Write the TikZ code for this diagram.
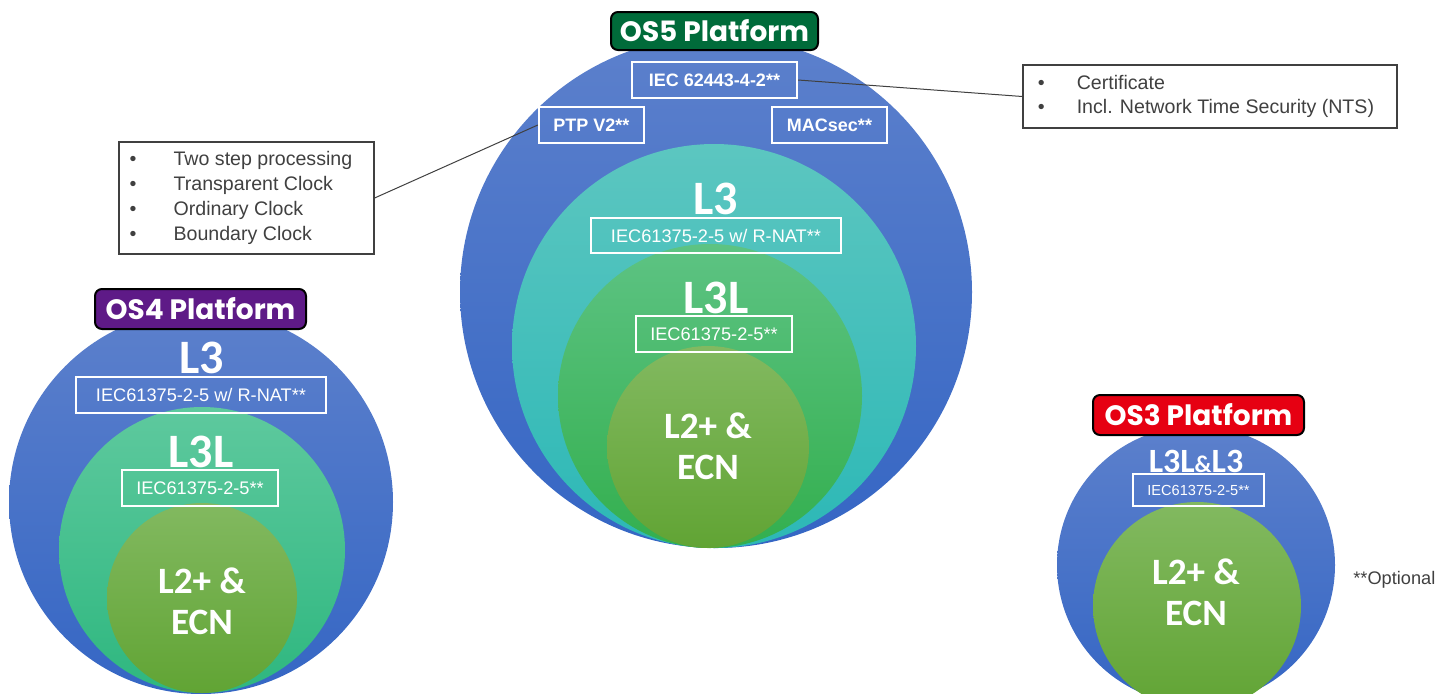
\documentclass[tikz,border=0pt]{standalone}
\usepackage{fontspec}
\setmainfont{Liberation Sans}
\newfontfamily\calibfont{Carlito}
\newfontfamily\gothicfont{Poppins}
\usepackage{tikz}
\usetikzlibrary{positioning}

\definecolor{blueTop}{HTML}{5C80CC}
\definecolor{blueBot}{HTML}{3566C4}
\definecolor{tealTop}{HTML}{5CC6C0}
\definecolor{tealBot}{HTML}{2CB8B6}
\definecolor{greenTop}{HTML}{5DC383}
\definecolor{greenBot}{HTML}{33AF4E}
\definecolor{mintTop}{HTML}{5EC99E}
\definecolor{mintBot}{HTML}{2EB77F}
\definecolor{oliveTop}{HTML}{82B960}
\definecolor{oliveBot}{HTML}{61A434}
\definecolor{osfiveGreen}{HTML}{006B3A}
\definecolor{osfourPurple}{HTML}{5E1A87}
\definecolor{osthreeRed}{HTML}{E60012}
\definecolor{noteGray}{HTML}{404040}

\tikzset{
  platform/.style={draw=black, line width=1pt, rounded corners=3.5pt, text=white,
    font=\gothicfont\bfseries\fontsize{14}{16}\selectfont, inner sep=0pt},
  stdbox/.style={draw=white, line width=1.2pt, text=white,
    font=\fontsize{9.1}{11}\selectfont, inner sep=0pt, minimum height=18pt},
  level/.style={text=white, font=\calibfont\bfseries\fontsize{24}{26}\selectfont, inner sep=0pt},
  core/.style={text=white, align=center, font=\calibfont\bfseries\fontsize{18.6}{20.5}\selectfont, inner sep=0pt},
  note/.style={draw=noteGray, line width=0.6pt, text=noteGray,
    font=\fontsize{9.8}{12.4}\selectfont, inner sep=0pt},
  leader/.style={draw=noteGray, line width=0.5pt}
}

\begin{document}
\begin{tikzpicture}[x=0.5pt,y=-0.5pt]
  \useasboundingbox (0,0) rectangle (1436,693);
  \clip (0,0) rectangle (1436,693);

  % OS5
  \shade[top color=blueTop, bottom color=blueBot] (716,292) circle (128pt);
  \shade[top color=tealTop, bottom color=tealBot] (714,346) circle (101pt);
  \shade[top color=greenTop, bottom color=greenBot] (710,396) circle (76pt);
  \shade[top color=oliveTop, bottom color=oliveBot] (708,447) circle (50.5pt);

  \node[platform, fill=osfiveGreen, minimum width=103.5pt, minimum height=19pt] (osfive) at (714.5,31) {OS5 Platform};
  \node[stdbox, font=\bfseries\fontsize{9}{11}\selectfont, minimum width=82.5pt] (iec) at (714.5,80) {IEC 62443-4-2**};
  \node[stdbox, font=\bfseries\fontsize{9}{11}\selectfont, minimum width=52.5pt] (ptp) at (591.5,125) {PTP V2**};
  \node[stdbox, font=\bfseries\fontsize{9}{11}\selectfont, minimum width=57.5pt] (macsec) at (829.5,125) {MACsec**};
  \node[level] (fivel3) at (716,199) {L3};
  \node[stdbox, minimum width=125pt, minimum height=17.5pt] (fivenat) at (716,235.5) {IEC61375-2-5 w/ R-NAT**};
  \node[level] (fivel3l) at (716,298) {L3L};
  \node[stdbox, minimum width=78pt] (fiveiec) at (714,334) {IEC61375-2-5**};
  \node[core] (fivecore) at (708,446) {L2+ \&\\ECN};

  % OS4
  \shade[top color=blueTop, bottom color=blueBot] (201,502) circle (96pt);
  \shade[top color=mintTop, bottom color=mintBot] (202,550) circle (71.5pt);
  \shade[top color=oliveTop, bottom color=oliveBot] (202,598) circle (47.5pt);

  \node[platform, fill=osfourPurple, minimum width=105.5pt, minimum height=20pt] (osfour) at (200.5,309) {OS4 Platform};
  \node[level] (fourl3) at (202,358) {L3};
  \node[stdbox, minimum width=125pt] (fournat) at (201,395) {IEC61375-2-5 w/ R-NAT**};
  \node[level] (fourl3l) at (201,452) {L3L};
  \node[stdbox, minimum width=78pt] (fouriec) at (200,488) {IEC61375-2-5**};
  \node[core] (fourcore) at (202,601) {L2+ \&\\ECN};

  % OS3
  \shade[top color=blueTop, bottom color=blueBot] (1196,565) circle (69.5pt);
  \shade[top color=oliveTop, bottom color=oliveBot] (1197,606) circle (52pt);

  \node[platform, fill=osthreeRed, minimum width=105.5pt, minimum height=20pt] (osthree) at (1198.5,415) {OS3 Platform};
  \node[level, font=\calibfont\bfseries\fontsize{17}{18}\selectfont] (threel3) at (1196,461) {L3L{\fontsize{12}{13}\selectfont\&}L3};
  \node[stdbox, font=\fontsize{7.3}{9}\selectfont, minimum width=65.5pt, minimum height=16pt] (threeiec) at (1198.5,490) {IEC61375-2-5**};
  \node[core] (threecore) at (1196,592) {L2+ \&\\ECN};

  \node[anchor=west, inner sep=0pt, text=noteGray, font=\fontsize{9.1}{11}\selectfont] (optional) at (1353,580) {**Optional};

  % callouts
  \node[note, minimum width=127.5pt, minimum height=56pt] (ptpnote) at (246.5,198)
    {\raisebox{-1pt}{\begin{tabular}{@{}l@{\hspace{18.5pt}}l@{\hspace{5.5pt}}}
      \textbullet & Two step processing\\
      \textbullet & Transparent Clock\\
      \textbullet & Ordinary Clock\\
      \textbullet & Boundary Clock
    \end{tabular}}};
  \node[note, minimum width=187pt, minimum height=31.5pt] (ntsnote) at (1210,96.5)
    {\raisebox{-1.5pt}{\begin{tabular}{@{}l@{\hspace{16pt}}l@{\hspace{4pt}}}
      \textbullet & Certificate\\
      \textbullet & Incl. Network Time Security (NTS)
    \end{tabular}}};

  \draw[leader] (ptpnote.east) -- (ptp.west);
  \draw[leader] (iec.east) -- (ntsnote.west);
\end{tikzpicture}
\end{document}
